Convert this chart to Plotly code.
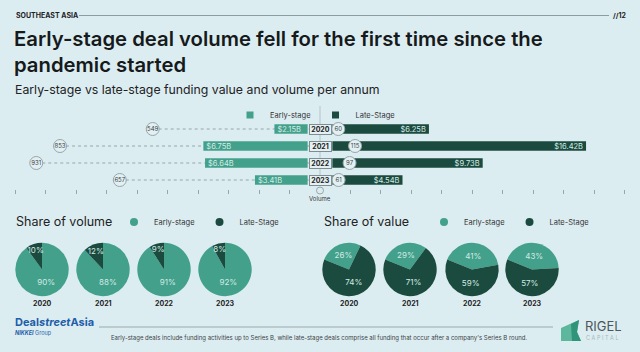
import plotly.graph_objects as go

# ---------------- data ----------------
years = [2020, 2021, 2022, 2023]
year_labels = ["2020", "2021", "2022", "2023"]
early_value = [2.15, 6.75, 6.64, 3.41]      # US$ billions
late_value = [6.25, 16.42, 9.73, 4.54]      # US$ billions
early_volume = [549, 853, 931, 657]         # number of deals
late_volume = [60, 115, 97, 61]
share_volume_early = [90, 88, 91, 92]       # %
share_volume_late = [10, 12, 9, 8]
share_value_early = [26, 29, 41, 43]
share_value_late = [74, 71, 59, 57]
volume_ticks = [-1000, -900, -800, -700, -600, -500, -400, -300, -200, -100,
                100, 200, 300, 400, 500, 600, 700, 800, 900, 1000]
series_names = ["Early-stage", "Late-Stage"]

# ---------------- style ----------------
W, H = 640, 352
BG = "#dcedf2"
TEAL = "#42a08b"
DARK = "#1b4a3f"
GREY = "#97a6a9"
TXT = "#1e2222"
FONT = "Inter"
GAP = 0.8           # half-width of centre column (in $B units)
BAR_SCALE = 15.45   # px per $B
VOL_RANGE = 1050


def px(x):
    return x / W


def py(y):
    return 1 - y / H


fig = go.Figure()

# diverging bars
fig.add_trace(go.Bar(
    y=years, x=[-v for v in early_value], base=-GAP, orientation="h",
    marker=dict(color=TEAL, line=dict(width=0)), width=0.56,
    text=[f"${v:.2f}B" for v in early_value], textposition="inside",
    insidetextanchor="end", constraintext="none",
    textfont=dict(size=7.5, color="#d6ede6", family=FONT),
    xaxis="x", yaxis="y", showlegend=False, hoverinfo="skip"))
fig.add_trace(go.Bar(
    y=years, x=late_value, base=GAP, orientation="h",
    marker=dict(color=DARK, line=dict(width=0)), width=0.56,
    text=[f"${v:.2f}B" for v in late_value], textposition="inside",
    insidetextanchor="end", constraintext="none",
    textfont=dict(size=7.5, color="#d6ede6", family=FONT),
    xaxis="x", yaxis="y", showlegend=False, hoverinfo="skip"))

# volume bubbles
for vols, sign in ((early_volume, -1), (late_volume, 1)):
    fig.add_trace(go.Scatter(
        y=years, x=[sign * v for v in vols], mode="markers+text",
        text=[str(v) for v in vols], textposition="middle center",
        textfont=dict(size=6, color="#3a4244", family=FONT),
        marker=dict(size=13, color="#e2f0f3", line=dict(color=GREY, width=1)),
        xaxis="x2", yaxis="y", showlegend=False, hoverinfo="skip", cliponaxis=False))

# legend entries (top legend squares, pie legends circles)
for name, col in zip(series_names, (TEAL, DARK)):
    fig.add_trace(go.Scatter(x=[None], y=[None], mode="markers", name=name,
                             marker=dict(symbol="square", size=7, color=col),
                             legend="legend", xaxis="x", yaxis="y"))
for lg in ("legend2", "legend3"):
    for name, col in zip(series_names, (TEAL, DARK)):
        fig.add_trace(go.Scatter(x=[None], y=[None], mode="markers", name=name,
                                 marker=dict(symbol="circle", size=8, color=col),
                                 legend=lg, xaxis="x", yaxis="y"))

# pies
R = 26.7
vol_cx = [42, 103, 164, 225]
val_cx = [349, 410, 472, 532]
CY = 269.5
annotations = []
for i, yr in enumerate(year_labels):
    for cx, e, l, rot in ((vol_cx[i], share_volume_early[i], share_volume_late[i], 0),
                          (val_cx[i], share_value_early[i], share_value_late[i], -68)):
        fig.add_trace(go.Pie(
            values=[e, l], labels=series_names, sort=False, direction="clockwise",
            rotation=rot, marker=dict(colors=[TEAL, DARK], line=dict(width=0)),
            texttemplate="%{value}%", textposition="inside",
            insidetextorientation="horizontal",
            textfont=dict(size=8, color="#d3eae3", family=FONT),
            domain=dict(x=[px(cx - R), px(cx + R)], y=[py(CY + R), py(CY - R)]),
            showlegend=False, hoverinfo="skip"))
        annotations.append(dict(x=px(cx), y=py(303), text=f"<b>{yr}</b>",
                                font=dict(size=7, color=TXT, family=FONT)))

# year boxes in the centre column
for yr, lab in zip(years, year_labels):
    annotations.append(dict(x=0, y=yr, xref="x2", yref="y", text=f"<b>{lab}</b>",
                            font=dict(size=7, color=TXT, family=FONT),
                            bgcolor="#e4f1f4", bordercolor="#7f8d90", borderwidth=1,
                            borderpad=1, width=19, height=7))

shapes = []
# dotted leader lines from bubble to centre (under the bars)
for yr, v in zip(years, early_volume):
    shapes.append(dict(type="line", xref="x2", yref="y", x0=-v, x1=0, y0=yr, y1=yr,
                       line=dict(color=GREY, width=1, dash="dot"), layer="below"))
# centre vertical line
shapes.append(dict(type="line", xref="x2", yref="paper", x0=0, x1=0,
                   y0=py(186), y1=py(106), line=dict(color="#b4c3c6", width=1), layer="below"))
# Volume origin marker
shapes.append(dict(type="circle", xref="x2", yref="paper", xsizemode="pixel", ysizemode="pixel",
                   xanchor=0, yanchor=py(190.5), x0=-3.5, x1=3.5, y0=-3.5, y1=3.5,
                   fillcolor=BG, line=dict(color=GREY, width=1)))
# header rule
shapes.append(dict(type="line", xref="paper", yref="paper", x0=px(79), x1=px(609),
                   y0=py(15.5), y1=py(15.5), line=dict(color="#8e9c9f", width=1)))
# footer rule
shapes.append(dict(type="line", xref="paper", yref="paper", x0=px(99), x1=px(553),
                   y0=py(327), y1=py(327), line=dict(color="#9aa8ab", width=1)))
# Rigel logo mark
shapes.append(dict(type="path", xref="paper", yref="paper",
                   path=(f"M {px(561)} {py(328)} L {px(579)} {py(320)} L {px(577)} {py(332)} "
                         f"L {px(581)} {py(341)} L {px(561)} {py(341)} Z"),
                   fillcolor="#5cb79d", line=dict(width=0)))
shapes.append(dict(type="path", xref="paper", yref="paper",
                   path=(f"M {px(571)} {py(324)} L {px(579)} {py(320)} L {px(577)} {py(332)} "
                         f"L {px(581)} {py(341)} L {px(572)} {py(341)} Z"),
                   fillcolor="#2f9479", line=dict(width=0)))

# text
annotations += [
    dict(x=px(14), y=py(15.5), text="<b>SOUTHEAST ASIA</b>", xanchor="left",
         font=dict(size=7, color=TXT, family=FONT)),
    dict(x=px(628), y=py(15.5), text="<b>//12</b>", xanchor="right",
         font=dict(size=7, color=TXT, family=FONT)),
    dict(x=px(12), y=py(51.5),
         text="Early-stage deal volume fell for the first time since the<br>pandemic started",
         xanchor="left", align="left",
         font=dict(size=20.3, color="#161a1a", family=FONT, weight=600)),
    dict(x=px(13), y=py(89), text="Early-stage vs late-stage funding value and volume per annum",
         xanchor="left", font=dict(size=12.3, color="#222", family=FONT)),
    dict(x=0, y=py(198), xref="x2", text="Volume",
         font=dict(size=6, color="#333", family=FONT)),
    dict(x=px(14), y=py(221), text="Share of volume", xanchor="left",
         font=dict(size=12.5, color="#222", family=FONT)),
    dict(x=px(322), y=py(221), text="Share of value", xanchor="left",
         font=dict(size=12.5, color="#222", family=FONT)),
    dict(x=px(13), y=py(322), text="<b>Deal<i>street</i>Asia</b>", xanchor="left",
         font=dict(size=11, color="#1f5ea8", family=FONT)),
    dict(x=px(13), y=py(333), text="<b><i>NIKKEI</i></b> Group", xanchor="left",
         font=dict(size=5.5, color="#1f5ea8", family=FONT)),
    dict(x=px(319), y=py(337.5),
         text="Early-stage deals include funding activities up to Series B, while late-stage deals comprise all funding that occur after a company's Series B round.",
         font=dict(size=6, color="#3b4244", family=FONT)),
    dict(x=px(583), y=py(326), text="RIGEL", xanchor="left",
         font=dict(size=13, color="#4d5759", family=FONT)),
    dict(x=px(584), y=py(338), text="C A P I T A L", xanchor="left",
         font=dict(size=5.5, color="#a7b5b8", family=FONT)),
]
for a in annotations:
    a.setdefault("xref", "paper")
    a.setdefault("yref", "paper")
    a.setdefault("showarrow", False)
    a.setdefault("xanchor", "center")
    a.setdefault("yanchor", "middle")

legend_common = dict(orientation="h", yanchor="middle", xanchor="left",
                     bgcolor="rgba(0,0,0,0)", font=dict(size=7.5, color="#333", family=FONT),
                     itemclick=False, itemdoubleclick=False)

fig.update_layout(
    width=W, height=H, margin=dict(l=0, r=0, t=0, b=0),
    paper_bgcolor=BG, plot_bgcolor="rgba(0,0,0,0)",
    font=dict(family=FONT, color=TXT),
    barmode="overlay",
    uniformtext=dict(minsize=7.5, mode="show"),
    xaxis=dict(domain=[0, 1], range=[-W / 2 / BAR_SCALE, W / 2 / BAR_SCALE], visible=False,
               fixedrange=True),
    xaxis2=dict(overlaying="x", anchor="y", side="bottom", range=[-VOL_RANGE, VOL_RANGE],
                tickvals=volume_ticks, ticks="outside", ticklen=4, tickcolor=GREY,
                showticklabels=False, showgrid=False, zeroline=False, showline=False,
                fixedrange=True),
    yaxis=dict(domain=[py(188.5), py(120.5)], range=[2023.5, 2019.5], visible=False,
               fixedrange=True),
    legend=dict(x=px(230), y=py(115), **legend_common),
    legend2=dict(x=px(114), y=py(222), **legend_common),
    legend3=dict(x=px(424), y=py(222), **legend_common),
    annotations=annotations,
    shapes=shapes,
)

fig.write_html("out.html")
